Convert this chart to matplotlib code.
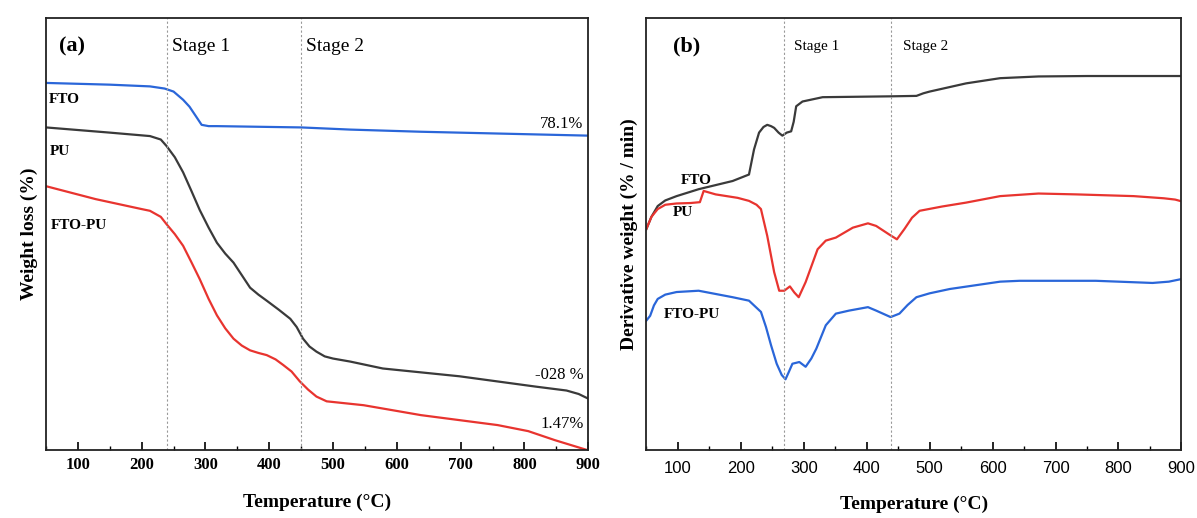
import numpy as np
import matplotlib.pyplot as plt
from matplotlib.ticker import MultipleLocator

# ---- panel (a): TGA weight curves ----
t_fto_a = [50, 150, 213, 236, 250, 265, 275, 285, 294, 305, 318, 450, 527, 638, 900]
w_fto = [85.0, 84.6, 84.2, 83.7, 83.0, 81.1, 79.5, 77.3, 75.3, 75.0, 75.0, 74.7, 74.2,
         73.7, 72.8]

t_pu_a = [50, 150, 213, 230, 239, 252, 265, 278, 291, 305, 318, 331, 344, 357, 370, 383,
          396, 415, 433, 443, 453, 463, 474, 487, 500, 527, 578, 698, 818, 866, 885, 899]
w_pu = [74.7, 73.5, 72.7, 71.9, 70.4, 67.8, 64.3, 60.0, 55.6, 51.5, 48.0, 45.5, 43.4,
        40.5, 37.6, 36.0, 34.6, 32.5, 30.4, 28.5, 25.8, 24.0, 22.8, 21.7, 21.2, 20.5,
        18.9, 17.1, 14.7, 13.8, 13.0, 12.0]

t_mix_a = [50, 128, 200, 213, 230, 239, 252, 265, 278, 291, 305, 318, 331, 344, 357, 370,
           383, 396, 410, 422, 435, 448, 461, 474, 490, 548, 638, 758, 806, 848, 899]
w_mix = [61.1, 58.1, 55.8, 55.4, 54.0, 52.3, 50.0, 47.3, 43.5, 39.6, 35.0, 31.2, 28.2,
         25.8, 24.2, 23.1, 22.5, 22.0, 21.0, 19.7, 18.2, 15.9, 14.0, 12.4, 11.3, 10.4,
         8.1, 5.8, 4.4, 2.3, 0.0]

# ---- panel (b): DTG curves ----
t_fto_b = [50, 58, 68, 80, 98, 133, 187, 213, 221, 229, 236, 242, 248, 253, 260, 266,
           273, 280, 284, 288, 298, 330, 439, 479, 490, 500, 558, 612, 673, 750, 900]
d_fto = [51.2, 54.0, 56.5, 57.8, 58.8, 60.4, 62.3, 63.8, 69.6, 73.5, 74.8, 75.3, 75.0,
         74.6, 73.5, 72.8, 73.5, 73.8, 76.0, 79.6, 80.7, 81.7, 81.9, 82.0, 82.6, 83.0,
         84.9, 86.1, 86.5, 86.6, 86.6]

t_pu_b = [50, 58, 68, 80, 98, 120, 135, 141, 160, 195, 213, 225, 232, 242, 253, 261, 269,
          278, 285, 292, 303, 312, 322, 335, 351, 378, 402, 415, 437, 448, 460, 472, 484,
          520, 558, 612, 673, 733, 824, 872, 890, 900]
d_pu = [51.2, 54.0, 55.8, 56.8, 57.1, 57.2, 57.4, 60.0, 59.2, 58.4, 57.7, 56.8, 55.8,
        49.6, 41.2, 36.9, 36.9, 37.9, 36.5, 35.4, 38.9, 42.5, 46.5, 48.5, 49.2, 51.5,
        52.5, 51.9, 49.8, 48.8, 51.2, 53.8, 55.4, 56.4, 57.3, 58.8, 59.4, 59.2, 58.8,
        58.3, 58.0, 57.6]

t_mix_b = [50, 56, 62, 68, 80, 98, 133, 187, 213, 232, 240, 248, 257, 265, 271, 276, 282,
           293, 303, 312, 320, 335, 351, 372, 402, 415, 438, 452, 465, 479, 500, 532, 612,
           643, 764, 854, 880, 900]
d_mix = [30.0, 31.1, 33.5, 35.0, 36.0, 36.6, 36.9, 35.4, 34.6, 32.0, 28.5, 24.3, 20.0,
         17.4, 16.4, 18.0, 20.0, 20.4, 19.3, 21.2, 23.5, 28.9, 31.6, 32.3, 33.1, 32.3,
         30.8, 31.6, 33.6, 35.4, 36.3, 37.3, 39.0, 39.2, 39.2, 38.7, 39.0, 39.6]

stages_a = [240, 450]
stages_b = [268, 439]

BLUE = '#2a66d9'
BLACK = '#3a3a3a'
RED = '#e8342f'
SERIF = 'Liberation Serif'
SANS = 'Liberation Sans'

fig = plt.figure(figsize=(11.97, 5.18), dpi=100)
ax1 = fig.add_axes([0.0384, 0.131, 0.453, 0.834])
ax2 = fig.add_axes([0.540, 0.131, 0.447, 0.834])

for ax in (ax1, ax2):
    ax.set_xlim(50, 900)
    ax.set_ylim(0, 100)
    ax.xaxis.set_major_locator(MultipleLocator(100))
    ax.xaxis.set_minor_locator(MultipleLocator(50))
    ax.tick_params(axis='x', which='both', direction='in', top=False)
    ax.tick_params(axis='x', which='major', length=6, width=1.2)
    ax.tick_params(axis='x', which='minor', length=3, width=1.0)
    ax.tick_params(axis='y', left=False, labelleft=False)
    for s in ax.spines.values():
        s.set_linewidth(1.3)
        s.set_color('#222222')

# panel (a)
ax1.plot(t_fto_a, w_fto, color=BLUE, lw=1.6)
ax1.plot(t_pu_a, w_pu, color=BLACK, lw=1.6)
ax1.plot(t_mix_a, w_mix, color=RED, lw=1.6)
for x in stages_a:
    ax1.axvline(x, color='#999999', lw=0.8, ls=(0, (2, 2)))
ax1.set_xticks(range(100, 901, 100))
ax1.tick_params(axis='x', pad=5)
for lab in ax1.get_xticklabels():
    lab.set_fontfamily(SERIF)
    lab.set_fontweight('bold')
    lab.set_fontsize(12)
ax1.set_xlabel('Temperature (°C)', fontfamily=SERIF, fontweight='bold', fontsize=14, labelpad=15)
ax1.set_ylabel('Weight loss (%)', fontfamily=SERIF, fontweight='bold', fontsize=14, labelpad=6)

ax1.text(70, 93.5, '(a)', fontfamily=SERIF, fontweight='bold', fontsize=16, va='center')
ax1.text(247, 93.5, 'Stage 1', fontfamily=SERIF, fontsize=14, va='center')
ax1.text(457, 93.5, 'Stage 2', fontfamily=SERIF, fontsize=14, va='center')
ax1.text(54, 81.2, 'FTO', fontfamily=SERIF, fontweight='bold', fontsize=11, va='center')
ax1.text(56, 69.2, 'PU', fontfamily=SERIF, fontweight='bold', fontsize=11, va='center')
ax1.text(58, 52.0, 'FTO-PU', fontfamily=SERIF, fontweight='bold', fontsize=11, va='center')
ax1.text(893, 75.5, '78.1%', fontfamily=SERIF, fontsize=12, ha='right', va='center')
ax1.text(893, 17.3, '-028 %', fontfamily=SERIF, fontsize=12, ha='right', va='center')
ax1.text(893, 6.0, '1.47%', fontfamily=SERIF, fontsize=12, ha='right', va='center')

# panel (b)
ax2.plot(t_fto_b, d_fto, color=BLACK, lw=1.6)
ax2.plot(t_pu_b, d_pu, color=RED, lw=1.6)
ax2.plot(t_mix_b, d_mix, color=BLUE, lw=1.6)
for x in stages_b:
    ax2.axvline(x, color='#999999', lw=0.8, ls=(0, (2, 2)))
ax2.set_xticks(range(100, 901, 100))
ax2.tick_params(axis='x', pad=8)
for lab in ax2.get_xticklabels():
    lab.set_fontfamily(SANS)
    lab.set_fontsize(12)
ax2.set_xlabel('Temperature (°C)', fontfamily=SERIF, fontweight='bold', fontsize=14, labelpad=14)
ax2.set_ylabel('Derivative weight (% / min)', fontfamily=SERIF, fontweight='bold', fontsize=14, labelpad=6)

ax2.text(92, 93.5, '(b)', fontfamily=SERIF, fontweight='bold', fontsize=16, va='center')
ax2.text(285, 93.5, 'Stage 1', fontfamily=SERIF, fontsize=11, va='center')
ax2.text(457, 93.5, 'Stage 2', fontfamily=SERIF, fontsize=11, va='center')
ax2.text(105, 62.5, 'FTO', fontfamily=SERIF, fontweight='bold', fontsize=11, va='center')
ax2.text(92, 55.0, 'PU', fontfamily=SERIF, fontweight='bold', fontsize=11, va='center')
ax2.text(78, 31.5, 'FTO-PU', fontfamily=SERIF, fontweight='bold', fontsize=11, va='center')

plt.savefig('out.png', dpi=100)
